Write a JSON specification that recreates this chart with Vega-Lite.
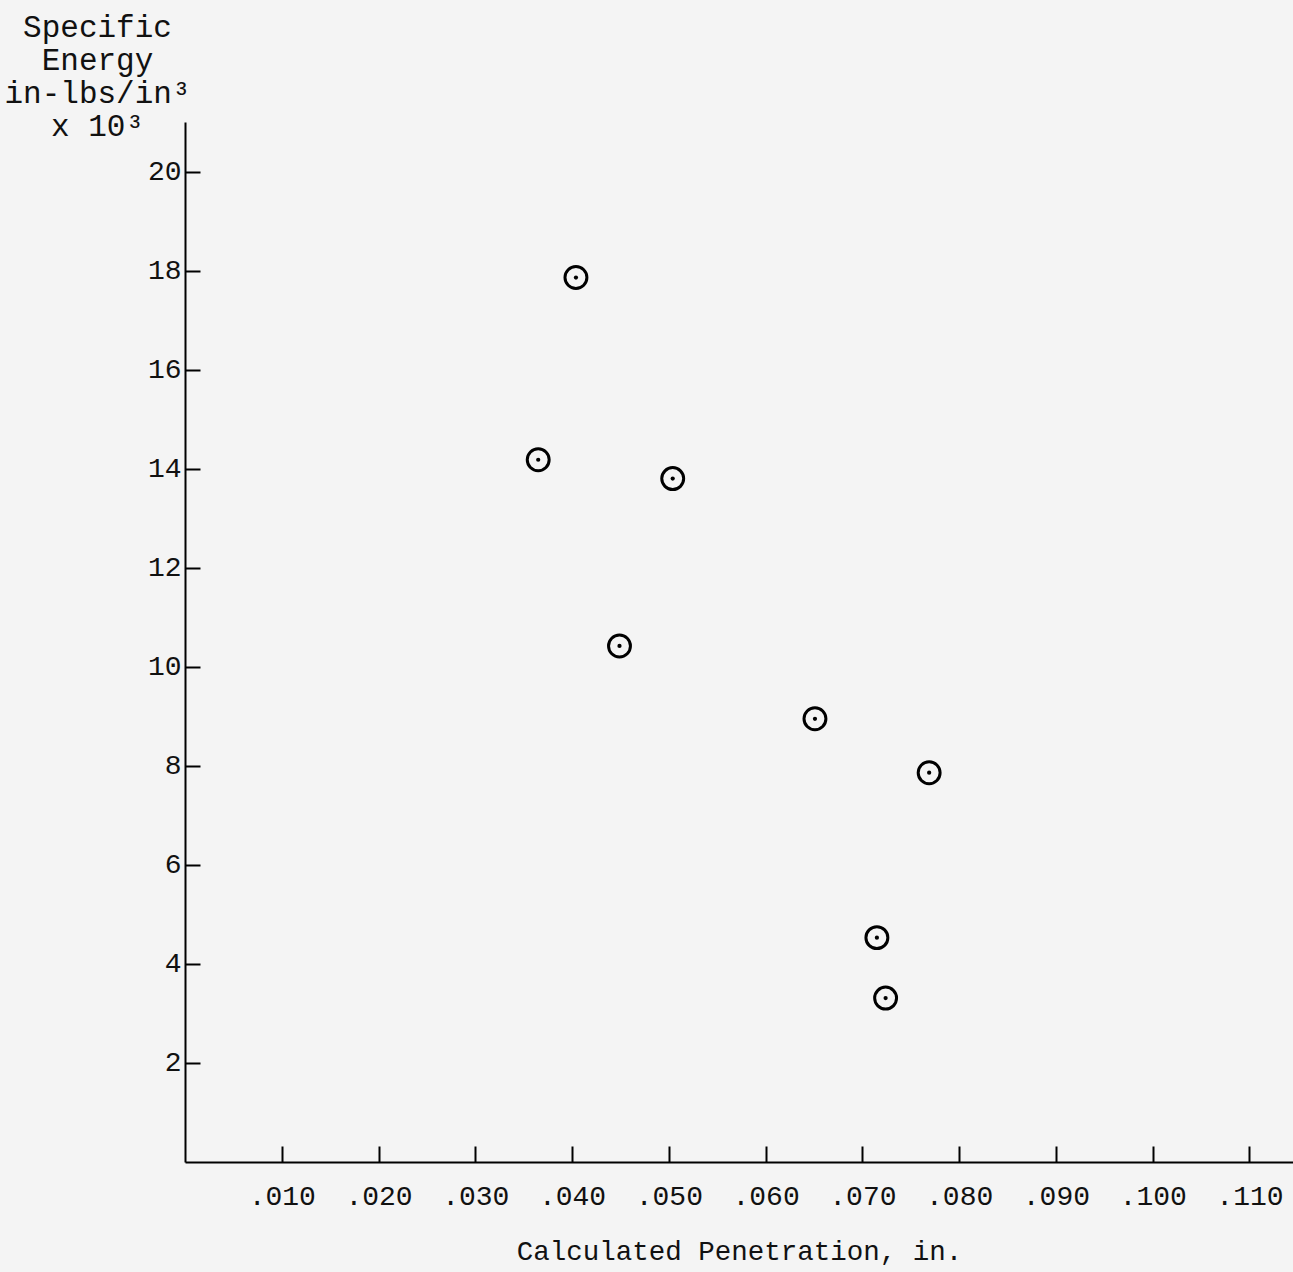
{
  "$schema": "https://vega.github.io/schema/vega-lite/v6.json",
  "width": 1108,
  "height": 1040,
  "autosize": {"type": "none"},
  "padding": {"left": 185, "top": 122, "right": 0, "bottom": 110},
  "background": "#f4f4f4",
  "config": {
    "view": {"stroke": null},
    "font": "Liberation Mono",
    "axis": {"grid": false, "domainColor": "#000", "tickColor": "#000", "labelColor": "#111", "titleColor": "#111", "labelFont": "Liberation Mono", "titleFont": "Liberation Mono", "titleFontWeight": "normal"}
  },
  "data": {"values": [
    {"pen": 0.0404, "energy": 17.86},
    {"pen": 0.0365, "energy": 14.18},
    {"pen": 0.0504, "energy": 13.8},
    {"pen": 0.0449, "energy": 10.42},
    {"pen": 0.0651, "energy": 8.95},
    {"pen": 0.0769, "energy": 7.86},
    {"pen": 0.0715, "energy": 4.53},
    {"pen": 0.0724, "energy": 3.31}
  ]},
  "encoding": {
    "x": {"field": "pen", "type": "quantitative",
      "scale": {"domain": [0, 0.1145], "nice": false, "zero": true},
      "axis": {"values": [0.01, 0.02, 0.03, 0.04, 0.05, 0.06, 0.07, 0.08, 0.09, 0.1, 0.11],
        "format": ".3f", "labelExpr": "replace(datum.label, '0.', '.')",
        "tickSize": -16, "tickWidth": 2, "domainWidth": 2, "labelPadding": 36, "labelFontSize": 28,
        "title": "Calculated Penetration, in.", "titleFontSize": 27.5, "titlePadding": 27}},
    "y": {"field": "energy", "type": "quantitative",
      "scale": {"domain": [0, 21], "nice": false},
      "axis": {"values": [2, 4, 6, 8, 10, 12, 14, 16, 18, 20],
        "tickSize": -15, "tickWidth": 2, "domainWidth": 2, "labelPadding": 19, "labelFontSize": 28,
        "title": ["Specific", "Energy", "in-lbs/in³", "x 10³"], "titleFontSize": 31, "titleLineHeight": 33,
        "titleAngle": 0, "titleAlign": "center", "titleBaseline": "top", "titleX": -88, "titleY": -110}}
  },
  "layer": [
    {"mark": {"type": "point", "shape": "circle", "filled": false, "size": 480, "stroke": "#000", "strokeWidth": 3, "opacity": 1}},
    {"mark": {"type": "point", "shape": "circle", "filled": true, "size": 18, "color": "#000", "opacity": 1}}
  ]
}
